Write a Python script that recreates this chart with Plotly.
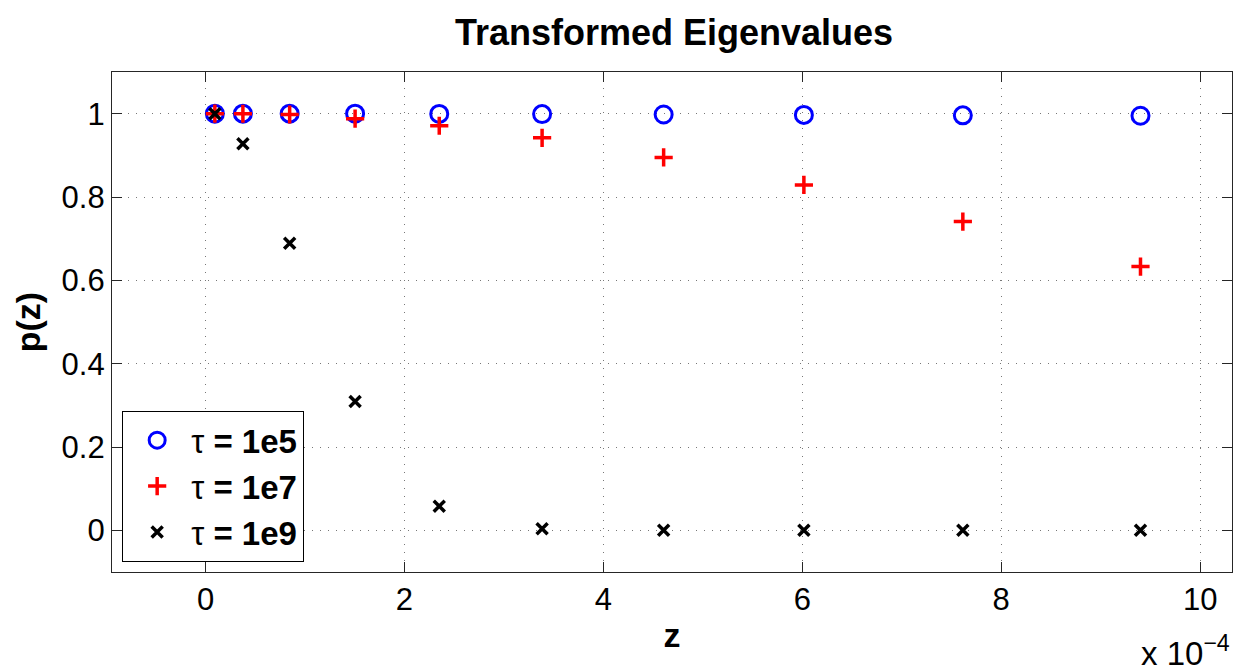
import plotly.graph_objects as go

# data (z in units of 1e-4 -> converted below)
z_e4 = [0.094, 0.376, 0.846, 1.504, 2.35, 3.384, 4.606, 6.016, 7.614, 9.40]
p_1e5 = [1.0, 1.0, 1.0, 1.0, 0.9995, 0.999, 0.998, 0.997, 0.996, 0.995]
p_1e7 = [1.0, 0.9998, 0.998, 0.988, 0.971, 0.942, 0.895, 0.829, 0.741, 0.633]
p_1e9 = [0.9999, 0.928, 0.689, 0.309, 0.058, 0.004, 0.0, 0.0, 0.0, 0.0]
names = ["τ <b>= 1e5</b>", "τ <b>= 1e7</b>", "τ <b>= 1e9</b>"]
x_ticks = [0, 2, 4, 6, 8, 10]
y_ticks = [0, 0.2, 0.4, 0.6, 0.8, 1]

z = [v * 1e-4 for v in z_e4]
FONT = "Liberation Sans, Arial, Helvetica, sans-serif"

fig = go.Figure()
fig.add_trace(go.Scatter(x=z, y=p_1e5, mode="markers", name=names[0],
                         marker=dict(symbol="circle-open", size=17, color="#0000ff",
                                     line=dict(width=3, color="#0000ff"))))
fig.add_trace(go.Scatter(x=z, y=p_1e7, mode="markers", name=names[1],
                         marker=dict(symbol="cross-thin", size=13, color="#ff0000",
                                     line=dict(width=3.5, color="#ff0000"))))
fig.add_trace(go.Scatter(x=z, y=p_1e9, mode="markers", name=names[2],
                         marker=dict(symbol="x-thin", size=11, color="#000000",
                                     line=dict(width=3.5, color="#000000"))))

axis_common = dict(showline=True, linecolor="#262626", linewidth=1.2, mirror="ticks",
                   ticks="inside", ticklen=10, tickcolor="#262626", tickwidth=1,
                   showgrid=True, gridcolor="#777777", gridwidth=1, griddash="1px,7px",
                   zeroline=False, tickfont=dict(family=FONT, size=31, color="#000"))

fig.update_xaxes(range=[-0.94e-4, 10.32e-4], tickvals=[v * 1e-4 for v in x_ticks],
                 ticktext=[str(v) for v in x_ticks],
                 title=dict(text="<b>z</b>", font=dict(family=FONT, size=34, color="#000"),
                            standoff=6),
                 **axis_common)
fig.update_yaxes(range=[-0.1, 1.1], tickvals=y_ticks,
                 ticktext=["0", "0.2", "0.4", "0.6", "0.8", "1"],
                 title=dict(text="<b>p(z)</b>", font=dict(family=FONT, size=34, color="#000"),
                            standoff=10),
                 **axis_common)

fig.update_layout(
    width=1238, height=667,
    margin=dict(l=112, r=6, t=72, b=95),
    paper_bgcolor="white", plot_bgcolor="white",
    title=dict(text="<b>Transformed Eigenvalues</b>", x=674 / 1238,
               xanchor="center", y=1 - 32 / 667, yanchor="middle",
               font=dict(family=FONT, size=36, color="#000")),
    showlegend=True,
    legend=dict(x=0.0089, y=0.02, xanchor="left", yanchor="bottom",
                bgcolor="white", bordercolor="#000", borderwidth=1.2,
                font=dict(family=FONT, size=33, color="#000"),
                itemsizing="trace", itemwidth=58, tracegroupgap=4),
    annotations=[dict(text="x 10<sup>−4</sup>", x=1.0, y=-0.112, xref="paper", yref="paper",
                      xanchor="right", yanchor="top", showarrow=False,
                      font=dict(family=FONT, size=33, color="#000"))],
)

fig.write_html("out.html")
